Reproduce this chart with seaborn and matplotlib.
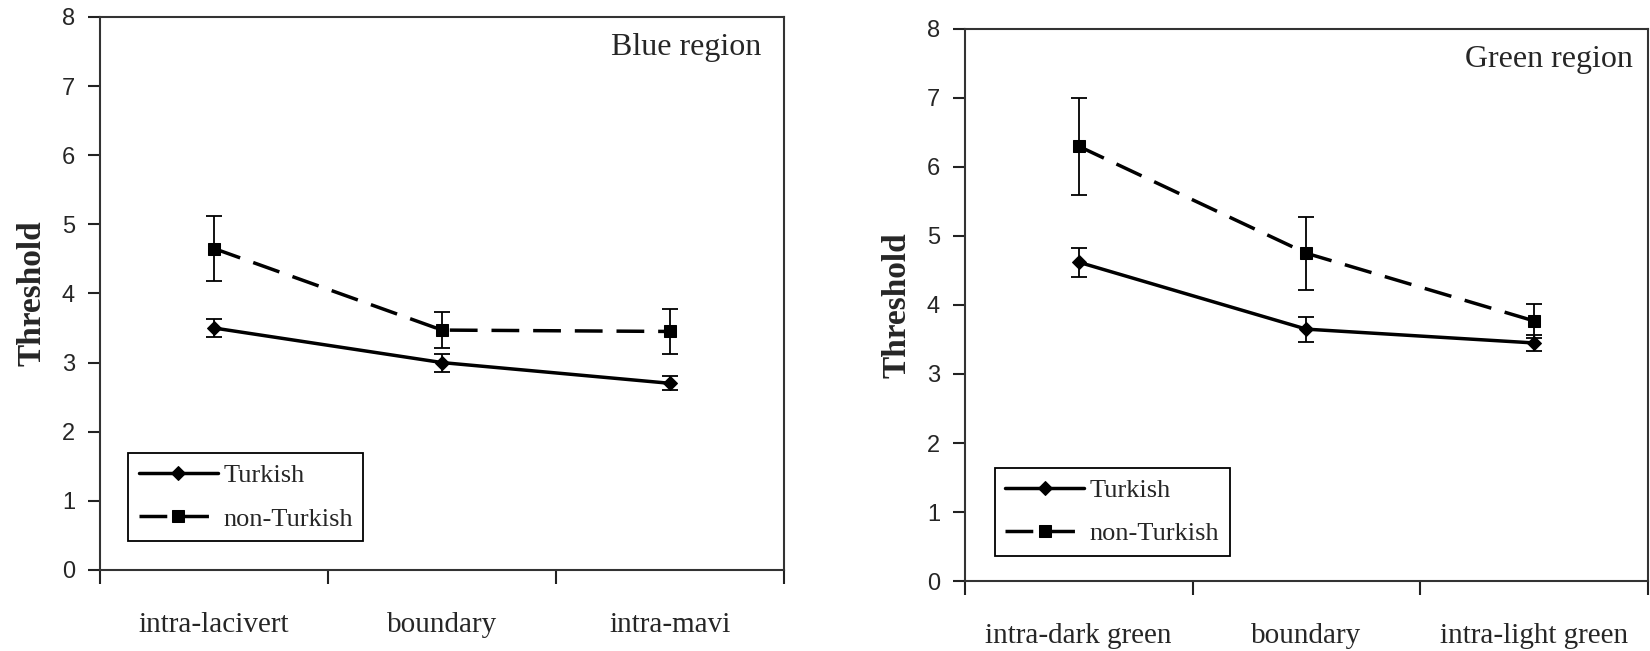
import matplotlib
matplotlib.use("Agg")
import matplotlib.pyplot as plt
import seaborn as sns
import pandas as pd
import numpy as np

# ---- data ----
blue_categories = ["intra-lacivert", "boundary", "intra-mavi"]
green_categories = ["intra-dark green", "boundary", "intra-light green"]
groups = ["Turkish", "non-Turkish"]

blue_turkish = [3.50, 3.00, 2.70]
blue_turkish_err = [0.13, 0.13, 0.10]
blue_nonturkish = [4.65, 3.47, 3.45]
blue_nonturkish_err = [0.47, 0.26, 0.33]

green_turkish = [4.62, 3.65, 3.45]
green_turkish_err = [0.21, 0.18, 0.12]
green_nonturkish = [6.30, 4.75, 3.77]
green_nonturkish_err = [0.70, 0.53, 0.25]

yticks = [0, 1, 2, 3, 4, 5, 6, 7, 8]

sns.set_theme(style="white")
plt.rcParams["font.family"] = ["Liberation Serif", "DejaVu Serif"]

fig = plt.figure(figsize=(16.5, 6.51), dpi=100)
ax1 = fig.add_axes([0.0606, 0.1245, 0.4145, 0.8495])
ax2 = fig.add_axes([0.5848, 0.1075, 0.4138, 0.848])

styles = {"Turkish": dict(marker="D", ls="-", ms=7),
          "non-Turkish": dict(marker="s", ls=(0, (8, 4)), ms=8)}


def panel(ax, cats, t, te, n, ne, title, title_x, legend_anchor):
    df = pd.DataFrame({
        "pos": list(range(len(cats))) * 2,
        "Threshold": t + n,
        "err": te + ne,
        "group": [groups[0]] * len(cats) + [groups[1]] * len(cats),
    })
    for g in groups:
        d = df[df["group"] == g]
        st = styles[g]
        sns.lineplot(data=d, x="pos", y="Threshold", ax=ax, color="black",
                     linewidth=2.5, linestyle=st["ls"], marker=st["marker"],
                     markersize=st["ms"], markeredgecolor="black",
                     label=g, legend=False)
        ax.errorbar(d["pos"], d["Threshold"], yerr=d["err"], fmt="none",
                    ecolor="black", elinewidth=1.3, capsize=6, capthick=1.3)
    ax.set_xlim(-0.5, 2.5)
    ax.set_ylim(0, 8)
    ax.set_yticks(yticks)
    ax.set_yticklabels([str(v) for v in yticks],
                       family=["Liberation Sans Narrow", "Liberation Sans"],
                       fontsize=17)
    ax.set_xticks([-0.5, 0.5, 1.5, 2.5])
    ax.set_xticklabels([])
    ax.set_xticks([0, 1, 2], minor=True)
    ax.set_xticklabels(cats, minor=True, fontsize=21)
    ax.tick_params(axis="x", which="major", direction="out", length=10,
                   width=1.5, color="#222222", bottom=True)
    ax.tick_params(axis="x", which="minor", length=0, pad=30)
    ax.tick_params(axis="y", direction="out", length=9, width=1.5,
                   color="#222222", left=True, pad=9)
    ax.set_xlabel("")
    ax.set_ylabel("Threshold", fontsize=24, fontweight="bold", labelpad=10)
    for s in ax.spines.values():
        s.set_visible(True)
        s.set_color("#333333")
        s.set_linewidth(1.5)
    ax.text(title_x, 0.945, title, transform=ax.transAxes, ha="right",
            va="center", fontsize=23)
    leg = ax.legend(loc="lower left", bbox_to_anchor=legend_anchor,
                    fontsize=19, frameon=True, fancybox=False,
                    edgecolor="black", handlelength=3.0, handletextpad=0.2,
                    borderpad=0.4, labelspacing=0.75)
    leg.get_frame().set_linewidth(1.3)
    leg.get_frame().set_alpha(1)


panel(ax1, blue_categories, blue_turkish, blue_turkish_err,
      blue_nonturkish, blue_nonturkish_err, "Blue region", 0.967,
      (0.022, 0.028))
panel(ax2, green_categories, green_turkish, green_turkish_err,
      green_nonturkish, green_nonturkish_err, "Green region", 0.978,
      (0.024, 0.022))

fig.savefig("out.png", dpi=100, facecolor="white")
